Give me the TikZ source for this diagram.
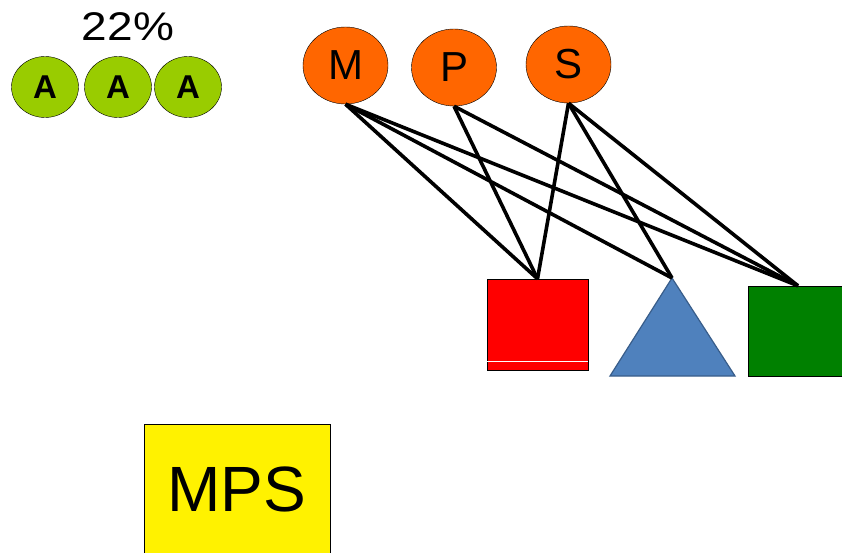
\documentclass[tikz,border=0pt]{standalone}
\usepackage{fontspec}
\setmainfont{Liberation Sans}
\usetikzlibrary{shapes.geometric}

\definecolor{agreen}{HTML}{99CC00}
\definecolor{mpsorange}{HTML}{FF6600}
\definecolor{triblue}{HTML}{4F81BD}
\definecolor{triedge}{HTML}{385D8A}
\definecolor{boxgreen}{HTML}{008000}

\tikzset{
	abubble/.style={draw, ellipse, fill=agreen, inner sep=0pt,
	                minimum width=67pt, minimum height=61pt,
	                font=\fontsize{33}{38}\selectfont\bfseries},
	letter/.style={draw, ellipse, fill=mpsorange, inner sep=0pt,
	               minimum width=85pt, minimum height=77pt,
	               font=\fontsize{42}{46}\selectfont},
	block/.style={draw, rectangle, inner sep=0pt},
	wire/.style={line width=3.6pt},
}

\begin{document}
\begin{tikzpicture}[x=1pt, y=-1pt]
	\useasboundingbox (0,0) rectangle (842,553);
	
	% Rating
	\node (rate) at (128,27)
	      [font=\fontsize{40}{44}\selectfont]
	      {\scalebox{1.15}[1]{22\%}};
	\foreach \x/\i in {45/1, 118/2, 188/3}{
		\node (a \i) at (\x,87) [abubble] {A};
	}
	
	% Letters
	\node (m) at (345.5,65.5) [letter] {M};
	\node (p) at (454,67.5)   [letter] {P};
	\node (s) at (568.5,64.5) [letter] {S};
	
	% Targets
	\node (red) at (537.5,324.5)
	      [block, fill=red, minimum width=101pt, minimum height=91pt] {};
	\draw [white, line width=0.8pt]
	      ([yshift=9pt] red.south west) -- ([yshift=9pt] red.south east);
	\coordinate (tri) at (672,278);
	\draw [fill=triblue, draw=triedge, line width=1.2pt]
	      (tri) -- (610,376) -- (735,376) -- cycle;
	\node (grn) at (798,331)
	      [block, fill=boxgreen, minimum width=100pt, minimum height=90pt] {};
	
	% Wires
	\foreach \src/\dst in {m/red.north, m/tri, m/grn.north,
	                       p/red.north, p/grn.north,
	                       s/red.north, s/tri, s/grn.north}{
		\draw [wire] (\src.south) -- (\dst);
	}
	
	% Label box
	\node (mps) at (237,489)
	      [block, fill=yellow, minimum width=186pt, minimum height=130pt,
	       font=\fontsize{64}{70}\selectfont]
	      {MPS};
\end{tikzpicture}
\end{document}
